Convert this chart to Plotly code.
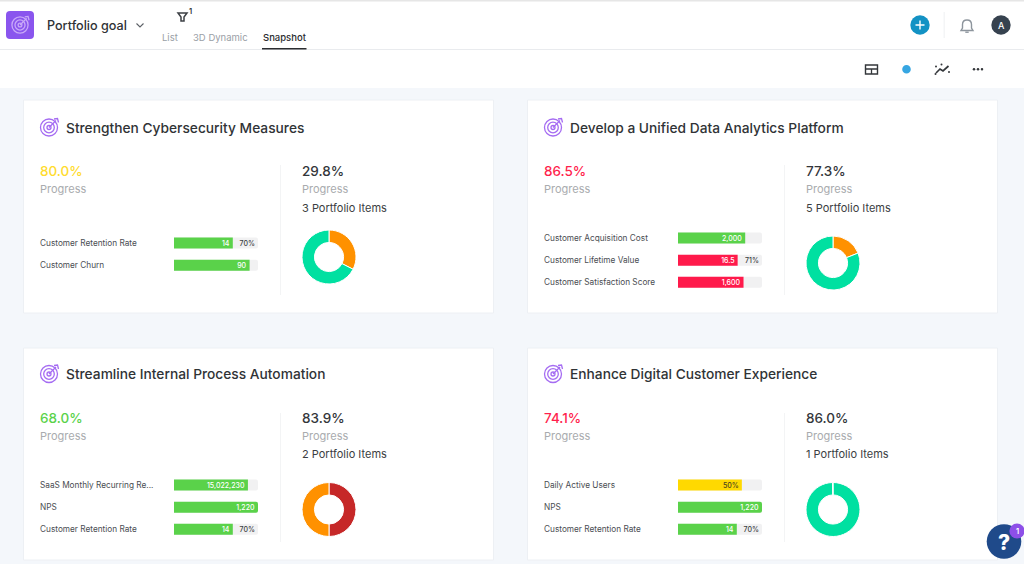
import plotly.graph_objects as go

W, H = 1024, 564

# ---- data ----
goal_titles = ["Strengthen Cybersecurity Measures", "Develop a Unified Data Analytics Platform",
               "Streamline Internal Process Automation", "Enhance Digital Customer Experience"]
goal_progress = ["80.0%", "86.5%", "68.0%", "74.1%"]
item_progress = ["29.8%", "77.3%", "83.9%", "86.0%"]
item_counts = ["3 Portfolio Items", "5 Portfolio Items", "2 Portfolio Items", "1 Portfolio Items"]

kr1_names = ["Customer Retention Rate", "Customer Churn"]
kr1_fill = [70, 90]
kr1_text = ["14", "90"]
kr1_pct = ["70%", ""]
kr1_state = ["g", "g"]

kr2_names = ["Customer Acquisition Cost", "Customer Lifetime Value", "Customer Satisfaction Score"]
kr2_fill = [80, 71, 78]
kr2_text = ["2,000", "16.5", "1,600"]
kr2_pct = ["", "71%", ""]
kr2_state = ["g", "r", "r"]

kr3_names = ["SaaS Monthly Recurring Re...", "NPS", "Customer Retention Rate"]
kr3_fill = [88, 100, 70]
kr3_text = ["15,022,230", "1,220", "14"]
kr3_pct = ["", "", "70%"]
kr3_state = ["g", "g", "g"]

kr4_names = ["Daily Active Users", "NPS", "Customer Retention Rate"]
kr4_fill = [76, 100, 70]
kr4_text = ["50%", "1,220", "14"]
kr4_pct = ["", "", "70%"]
kr4_state = ["y", "g", "g"]

donut1_values = [32.5, 67.5]
donut1_colors = ["#ff9100", "#00e0a1"]
donut2_values = [19, 81]
donut2_colors = ["#ff9100", "#00e0a1"]
donut3_values = [50, 50]
donut3_colors = ["#c62828", "#ff9100"]
donut4_values = [99.7, 0.3]
donut4_colors = ["#00e0a1", "#00e0a1"]

# ---- styles and layout ----
GREEN, RED, YELLOW = "#5ad24a", "#ff1a4b", "#ffd900"
state_color = {"g": GREEN, "r": RED, "y": YELLOW}
progress_colors = ["#ffdc2e", "#ff1f4d", "#5ad24a", "#ff1f4d"]
INK, GREY, PURPLE = "#33363a", "#a9abae", "#a56cf2"
FONT = "Inter"

cards = [(23, 100, 100), (527, 100, 100), (23, 348, 346.5), (527, 348, 346.5)]
rows_first_y = [243, 238, 485, 485]
donut_centers = [(329, 257), (833, 263), (329, 509.5), (833, 509.5)]
kr_sets = [
    (kr1_names, kr1_fill, kr1_text, kr1_pct, kr1_state),
    (kr2_names, kr2_fill, kr2_text, kr2_pct, kr2_state),
    (kr3_names, kr3_fill, kr3_text, kr3_pct, kr3_state),
    (kr4_names, kr4_fill, kr4_text, kr4_pct, kr4_state),
]
donuts = [(donut1_values, donut1_colors), (donut2_values, donut2_colors),
          (donut3_values, donut3_colors), (donut4_values, donut4_colors)]

fig = go.Figure()
shapes, notes = [], []


def rect(x0, y0, x1, y1, fill, line=None, lw=1, layer="below"):
    shapes.append(dict(type="rect", xref="x", yref="y", x0=x0, y0=y0, x1=x1, y1=y1, fillcolor=fill,
                       line=dict(color=line or fill, width=lw if line else 0), layer=layer))


def circle(cx, cy, r, fill=None, line=None, lw=1.2, layer="below"):
    shapes.append(dict(type="circle", xref="x", yref="y", x0=cx - r, y0=cy - r, x1=cx + r, y1=cy + r,
                       fillcolor=fill or "rgba(0,0,0,0)",
                       line=dict(color=line or "rgba(0,0,0,0)", width=lw if line else 0), layer=layer))


def path(d, line=None, lw=1.2, fill=None, layer="below"):
    shapes.append(dict(type="path", xref="x", yref="y", path=d, fillcolor=fill or "rgba(0,0,0,0)",
                       line=dict(color=line or "rgba(0,0,0,0)", width=lw if line else 0), layer=layer))


def text(x, y, s, size, color, anchor="left", weight=400):
    notes.append(dict(xref="x", yref="y", x=x - 1 if anchor == "left" else x, y=y, text=s, showarrow=False,
                      xanchor=anchor, yanchor="middle", borderpad=0,
                      font=dict(family=FONT, size=size, color=color, weight=weight)))


def target(cx, cy, color, s=1.0):
    circle(cx, cy, 8.5 * s, line=color, lw=1.3)
    circle(cx, cy, 5.3 * s, line=color, lw=1.3)
    circle(cx, cy, 2 * s, line=color, lw=1.3)
    path(f"M{cx},{cy} L{cx + 7 * s},{cy - 7 * s}", line=color, lw=1.3)
    path(f"M{cx + 5 * s},{cy - 8.5 * s} L{cx + 8.5 * s},{cy - 9 * s} L{cx + 9.5 * s},{cy - 5 * s}", line=color, lw=1.3)


# page
rect(0, 0, W, H, "#f4f7fb")
rect(0, 1, W, 88, "#ffffff")
rect(0, 0, W, 1.5, "#e6e6e6")
rect(0, 49, W, 50, "#e9ebee")

# header
path("M10,11 L30,11 Q34,11 34,15 L34,35 Q34,39 30,39 L10,39 Q6,39 6,35 L6,15 Q6,11 10,11 Z", fill="#8a55ee")
target(20, 25, "#c9a9f8", 0.95)
text(47, 25, "Portfolio goal", 12.6, "#2f3235", weight=500)
path("M136.5,23.5 L140,27 L143.5,23.5", line="#5c6066", lw=1.1)
path("M178,13 L187,13 L184,17 L184,21 L181,21 L181,17 Z", line="#3d4045", lw=1.5)
text(189, 11, "1", 7.5, "#33363a", weight=600)
text(162, 37, "List", 9.5, "#9aa0a6")
text(193, 37, "3D Dynamic", 9.5, "#9aa0a6")
text(262.5, 37, "Snapshot", 9.5, "#2b2d30", weight=500)
rect(262, 48, 306.5, 49.5, "#2b2d30")

circle(920, 25, 9.7, fill="#1392c4")
path("M920,20.5 L920,29.5 M915.5,25 L924.5,25", line="#ffffff", lw=1.4)
rect(943.7, 12, 944.6, 38, "#eceef0")
path("M961,30.5 L973,30.5 L971.5,28 L971.5,24.5 Q971.5,20 967,20 Q962.5,20 962.5,24.5 L962.5,28 Z",
     line="#8d959d", lw=1.4)
path("M965.3,32.2 L968.7,32.2", line="#8d959d", lw=1.4)
circle(1001, 25, 9.7, fill="#36424f")
text(1001, 25.5, "A", 9, "#ffffff", "center", 500)

# toolbar
rect(865.5, 65, 877.5, 74, "rgba(0,0,0,0)", "#34373b", 1.4)
path("M865.5,69 L877.5,69 M871.5,69 L871.5,74", line="#34373b", lw=1.3)
circle(906.5, 69.3, 4.3, fill="#36a6e2")
path("M936,73 L940,69 L943,71 L948.5,66", line="#34373b", lw=1.7)
for px, py in [(936, 66.5), (941.5, 64.5), (949, 72), (935.5, 74)]:
    circle(px, py, 1, fill="#34373b")
for px in (974, 978, 982):
    circle(px, 69.3, 1.25, fill="#34373b")

# help widget
circle(1004, 541.5, 17.3, fill="#1f4a8a", layer="above")
text(1004, 542, "?", 21, "#ffffff", "center", 800)
circle(1017, 531, 7.6, fill="#8d4fe8", layer="above")
text(1017, 531, "1", 7.5, "#ffffff", "center", 600)

# full-page pixel axes carrying shapes and annotations
fig.add_trace(go.Scatter(x=[], y=[], xaxis="x", yaxis="y", showlegend=False))
axes = dict(
    xaxis=dict(domain=[0, 1], range=[0, W], visible=False, fixedrange=True),
    yaxis=dict(domain=[0, 1], range=[H, 0], visible=False, fixedrange=True),
)

for i in range(4):
    left, top, ttop = cards[i]
    bottom = top + (213 if i < 2 else 212)
    rect(left + 0.5, top, left + 470.5, bottom, "#ffffff", "#edf0f4", 1)
    target(left + 26, ttop + 27.5, PURPLE)
    text(left + 43, ttop + 27.5, goal_titles[i], 13.75, "#303336", weight=500)
    text(left + 17, ttop + 71, goal_progress[i], 13.5, progress_colors[i], weight=500)
    text(left + 17, ttop + 89, "Progress", 11, GREY)
    rect(left + 257, top + 65, left + 257.8, bottom - 18, "#f0f1f3")
    text(left + 279, ttop + 71, item_progress[i], 13.5, INK, weight=500)
    text(left + 279, ttop + 89, "Progress", 11, GREY)
    text(left + 279, ttop + 107.7, item_counts[i], 11, "#3b3e42")

    names, fill, labels, pct, state = kr_sets[i]
    n = len(names)
    xname, yname = f"x{i + 2}", f"y{i + 2}"
    first = rows_first_y[i]
    y0, y1 = first - 11, first + 22.2 * (n - 1) + 11
    axes[f"xaxis{i + 2}"] = dict(domain=[(left + 151) / W, (left + 235) / W], range=[0, 100], visible=False,
                                 anchor=yname, fixedrange=True)
    axes[f"yaxis{i + 2}"] = dict(domain=[1 - y1 / H, 1 - y0 / H], range=[n - 0.5, -0.5], visible=False,
                                 anchor=xname, fixedrange=True)
    rows = list(range(n))
    fig.add_trace(go.Bar(x=[100] * n, y=rows, orientation="h", width=0.5, marker=dict(color="#f1f1f2", line_width=0),
                         text=pct, textposition="inside", insidetextanchor="end", textangle=0, constraintext="none",
                         insidetextfont=dict(family=FONT, size=7, color="#3c3f43", weight=500),
                         xaxis=xname, yaxis=yname, showlegend=False))
    fig.add_trace(go.Bar(x=fill, y=rows, orientation="h", width=0.5,
                         marker=dict(color=[state_color[s] for s in state], line_width=0),
                         text=labels, textposition="inside", insidetextanchor="end", textangle=0, constraintext="none",
                         insidetextfont=dict(family=FONT, size=7, weight=500,
                                             color=["#4a4320" if s == "y" else "#ffffff" for s in state]),
                         xaxis=xname, yaxis=yname, showlegend=False))
    for r, name in enumerate(names):
        text(left + 17, first + 22.2 * r, name, 8.25, "#4a4d52")

    cx, cy = donut_centers[i]
    vals, cols = donuts[i]
    fig.add_trace(go.Pie(values=vals, sort=False, direction="clockwise", rotation=0, hole=0.54,
                         marker=dict(colors=cols, line=dict(color="#ffffff", width=1)),
                         textinfo="none", showlegend=False,
                         domain=dict(x=[(cx - 27) / W, (cx + 27) / W], y=[1 - (cy + 27) / H, 1 - (cy - 27) / H])))

fig.update_layout(width=W, height=H, margin=dict(l=0, r=0, t=0, b=0), autosize=False,
                  paper_bgcolor="#ffffff", plot_bgcolor="rgba(0,0,0,0)", barmode="overlay", barcornerradius=2,
                  showlegend=False, shapes=shapes, annotations=notes, **axes)

fig.write_html("out.html", config=dict(displayModeBar=False),
               post_script="document.body.style.margin='0';document.documentElement.style.overflow='hidden';")
